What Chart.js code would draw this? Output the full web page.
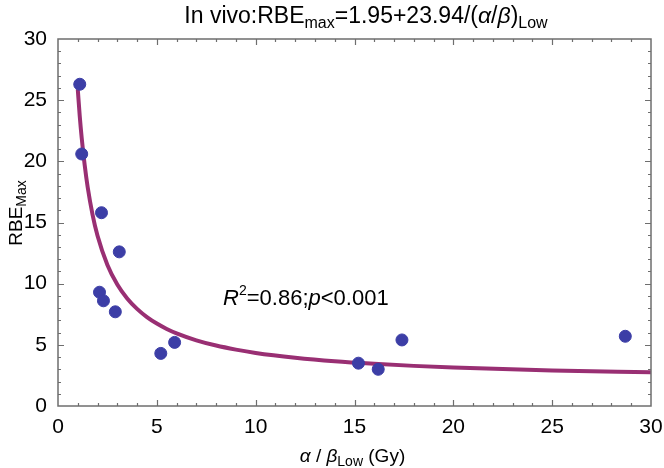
<!DOCTYPE html>
<html>
<head>
<meta charset="utf-8">
<script src="https://cdn.jsdelivr.net/npm/chart.js@4/dist/chart.umd.min.js"></script>
<style>
  html, body { margin: 0; padding: 0; background: #fff; }
  #wrap { width: 664px; height: 468px; }
</style>
</head>
<body>
<div id="wrap"><canvas id="rbeChart" width="664" height="468"></canvas></div>
<script>
// DATA - measured points (alpha/beta low, RBE max)
var pointX = [1.1, 1.2, 2.2, 3.1, 2.1, 2.3, 2.9, 5.2, 5.9, 15.2, 16.2, 17.4, 28.7];
var pointY = [26.3, 20.6, 15.8, 12.6, 9.3, 8.6, 7.7, 4.3, 5.2, 3.5, 3.0, 5.4, 5.7];

// fitted curve
var curveX = [1.0, 1.1, 1.2, 1.35, 1.5, 1.75, 2.0, 2.5, 3.0, 3.5, 4.0, 4.5, 5.0, 5.5, 6.0, 7.0, 8.0, 9.0, 10, 12, 14, 16, 18, 20, 25, 30];
var curveY = [25.9, 23.7, 21.9, 19.7, 17.9, 15.63, 13.92, 11.53, 9.93, 8.79, 7.94, 7.27, 6.74, 6.3, 5.94, 5.37, 4.94, 4.61, 4.34, 3.95, 3.66, 3.45, 3.28, 3.15, 2.91, 2.75];

var xTicks = [0, 5, 10, 15, 20, 25, 30];
var yTicks = [0, 5, 10, 15, 20, 25, 30];

var FONT = '"Liberation Sans", Arial, sans-serif';

function toXY(xs, ys) {
  return xs.map(function(x, i) { return { x: x, y: ys[i] }; });
}

// draws a run of text pieces: [text, size, italic, dy]
function drawRuns(ctx, runs, x, y, align) {
  var total = 0;
  runs.forEach(function(r) {
    ctx.font = (r[2] ? 'italic ' : '') + r[1] + 'px ' + FONT;
    total += ctx.measureText(r[0]).width;
  });
  var cx = align === 'center' ? x - total / 2 : x;
  runs.forEach(function(r) {
    ctx.font = (r[2] ? 'italic ' : '') + r[1] + 'px ' + FONT;
    ctx.fillText(r[0], cx, y + (r[3] || 0));
    cx += ctx.measureText(r[0]).width;
  });
}

var decorations = {
  id: 'decorations',
  afterDraw: function(chart) {
    var ctx = chart.ctx;
    var xs = chart.scales.x, ys = chart.scales.y;
    var a = chart.chartArea;
    ctx.save();
    // inward ticks on all four sides
    ctx.strokeStyle = '#6e6e6e';
    ctx.lineWidth = 1.2;
    for (var v = 1; v < 30; v++) {
      var len = (v % 5 === 0) ? 6 : 3;
      var px = Math.round(xs.getPixelForValue(v)) + 0.5;
      var py = Math.round(ys.getPixelForValue(v)) + 0.5;
      ctx.beginPath();
      ctx.moveTo(px, a.bottom); ctx.lineTo(px, a.bottom - len);
      ctx.moveTo(px, a.top); ctx.lineTo(px, a.top + len);
      ctx.moveTo(a.left, py); ctx.lineTo(a.left + len, py);
      ctx.moveTo(a.right, py); ctx.lineTo(a.right - len, py);
      ctx.stroke();
    }
    ctx.lineWidth = 1.5;
    ctx.strokeRect(a.left, a.top, a.right - a.left, a.bottom - a.top);

    ctx.fillStyle = '#000';
    ctx.textBaseline = 'alphabetic';
    // title
    drawRuns(ctx, [
      ['In vivo:RBE', 23, false], ['max', 16, false, 5], ['=1.95+23.94/(', 23, false],
      ['\u03b1', 23, true], ['/', 23, false], ['\u03b2', 23, true], [')', 23, false], ['Low', 16, false, 5]
    ], 366, 23, 'center');

    // annotation
    var ax = xs.getPixelForValue(8.35), ay = ys.getPixelForValue(8.9) + 8;
    drawRuns(ctx, [
      ['R', 22, true], ['2', 14, false, -10], ['=0.86;', 22, false], ['p', 22, true], ['<0.001', 22, false]
    ], ax, ay, 'left');

    // x axis title
    drawRuns(ctx, [
      ['\u03b1', 19, true], [' / ', 19, false], ['\u03b2', 19, true], ['Low', 14, false, 4], [' (Gy)', 19, false]
    ], (a.left + a.right) / 2 - 2, 462, 'center');

    // y axis title
    ctx.translate(22, 213);
    ctx.rotate(-Math.PI / 2);
    drawRuns(ctx, [['RBE', 19, false], ['Max', 14, false, 4]], 0, 0, 'center');
    ctx.restore();
  }
};

var chart = new Chart(document.getElementById('rbeChart'), {
  type: 'scatter',
  data: {
    datasets: [
      {
        label: 'measured',
        data: toXY(pointX, pointY),
        backgroundColor: '#3c3ea6',
        borderColor: '#3c3ea6',
        pointRadius: 6,
        pointHoverRadius: 6,
        order: 0
      },
      {
        label: 'fit',
        data: toXY(curveX, curveY),
        showLine: true,
        cubicInterpolationMode: 'monotone',
        borderColor: '#992f73',
        borderWidth: 4,
        borderJoinStyle: 'round',
        pointRadius: 0,
        fill: false,
        order: 1
      }
    ]
  },
  options: {
    responsive: false,
    animation: false,
    layout: { padding: { top: 39, right: 13, left: 0, bottom: 0 } },
    plugins: {
      legend: { display: false },
      tooltip: { enabled: false }
    },
    scales: {
      x: {
        type: 'linear',
        min: 0, max: 30,
        afterFit: function(s) { s.height = 62; },
        afterBuildTicks: function(s) { s.ticks = xTicks.map(function(v) { return { value: v }; }); },
        grid: { display: false },
        border: { display: false },
        ticks: { color: '#000', padding: 1, font: { family: FONT, size: 21 } }
      },
      y: {
        type: 'linear',
        min: 0, max: 30,
        afterFit: function(s) { s.width = 58; },
        afterBuildTicks: function(s) { s.ticks = yTicks.map(function(v) { return { value: v }; }); },
        grid: { display: false },
        border: { display: false },
        ticks: { color: '#000', padding: 3, font: { family: FONT, size: 21 } }
      }
    }
  },
  plugins: [decorations]
});
</script>
</body>
</html>
